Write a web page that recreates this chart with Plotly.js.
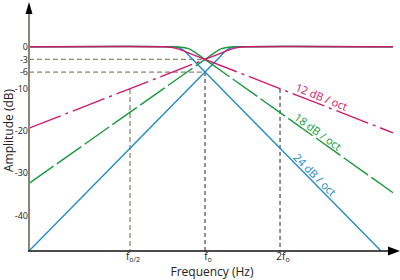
<!DOCTYPE html>
<html><head><meta charset="utf-8">
<script src="https://cdn.plot.ly/plotly-3.0.1.min.js"></script>
<style>html,body{margin:0;padding:0;background:#fff}#chart{width:400px;height:280px}</style>
</head><body><div id="chart"></div>
<script>
// x: octaves relative to the crossover frequency fo (log2(f/fo)); y: amplitude in dB
const xTickVals = [-1, 0, 1];
const xTickText = ['f<sub>o/2</sub>', 'f<sub>o</sub>', '2f<sub>o</sub>'];
const yTickVals = [0, -3, -6, -10, -20, -30, -40];
const yTickText = ['0', '-3', '-6', '-10', '-20', '-30', '-40'];

// 12 dB / oct (magenta)
const lp12KneeX = [-2.347, -0.58, -0.45, -0.33, -0.18, 0];
const lp12KneeY = [0, 0, -0.12, -0.7, -1.75, -3];
const lp12SlopeX = [0, 2.507];
const lp12SlopeY = [-3, -20.4];
const hp12SlopeX = [-2.347, 0];
const hp12SlopeY = [-19.3, -3];
const hp12KneeX = [0, 0.18, 0.33, 0.45, 0.58, 2.507];
const hp12KneeY = [-3, -1.75, -0.7, -0.12, 0, 0];

// 18 dB / oct (green)
const lp18KneeX = [-2.347, -0.42, -0.31, -0.22, -0.12, 0];
const lp18KneeY = [0, 0, -0.12, -0.45, -1.5, -3];
const lp18SlopeX = [0, 2.507];
const lp18SlopeY = [-3, -34.6];
const hp18SlopeX = [-2.347, 0];
const hp18SlopeY = [-32.4, -3];
const hp18KneeX = [0, 0.12, 0.22, 0.31, 0.42, 2.507];
const hp18KneeY = [-3, -1.5, -0.45, -0.12, 0, 0];

// 24 dB / oct (blue)
const lp24KneeX = [-2.347, -0.45, -0.36, -0.28, -0.20];
const lp24KneeY = [0, 0, -0.15, -0.9, -2.4];
const lp24SlopeX = [-0.20, 0, 2.347];
const lp24SlopeY = [-2.4, -6, -48.4];
const hp24SlopeX = [-2.347, 0, 0.20];
const hp24SlopeY = [-48.4, -6, -2.4];
const hp24KneeX = [0.20, 0.28, 0.36, 0.45, 2.507];
const hp24KneeY = [-2.4, -0.9, -0.15, 0, 0];

// guide lines
const guideLevels = [-3, -6];            // horizontal dashed levels (dB)
const guideOct = [-1, 0, 1];             // vertical dashed positions (fo/2, fo, 2fo)
const guideTop = [-10, -6, -10];         // where each vertical guide meets a curve (dB)

const slopeLabels = ['12 dB / oct', '18 dB / oct', '24 dB / oct'];
const slopeLabelX = [1.55, 1.51, 1.47];
const slopeLabelY = [-11.9, -20.0, -30.2];

const xMin = -2.347, xMax = 2.533, yMin = -48.41, yMax = 8.7;

const MAG = '#d0186f', GRN = '#17993d', BLU = '#1e8cc0', GUIDE = '#8c8872';
const FONT = 'Open Sans, Noto Sans, sans-serif';

function tr(x, y, color, dash, shape) {
  return {x: x, y: y, type: 'scatter', mode: 'lines', hoverinfo: 'skip',
    line: {color: color, width: 1.4, dash: dash || 'solid', shape: shape || 'linear', smoothing: 0.8}};
}

const traces = [];
guideLevels.forEach(function (lv) {
  traces.push({x: [xMin, 0], y: [lv, lv], type: 'scatter', mode: 'lines', hoverinfo: 'skip',
    line: {color: GUIDE, width: 1.3, dash: '5px,3px'}});
});
guideOct.forEach(function (o, i) {
  const isGray = o < 0;
  traces.push({x: [o, o], y: [guideTop[i], yMin], type: 'scatter', mode: 'lines', hoverinfo: 'skip',
    line: {color: isGray ? GUIDE : '#222', width: isGray ? 1.3 : 1, dash: isGray ? '5px,3px' : '4px,3px'}});
});

traces.push(tr(lp24KneeX, lp24KneeY, BLU, 'solid', 'spline'));
traces.push(tr(lp24SlopeX, lp24SlopeY, BLU));
traces.push(tr(hp24SlopeX, hp24SlopeY, BLU));
traces.push(tr(hp24KneeX, hp24KneeY, BLU, 'solid', 'spline'));

traces.push(tr(lp18KneeX, lp18KneeY, GRN, 'solid', 'spline'));
traces.push(tr(lp18SlopeX, lp18SlopeY, GRN, '30px,4px'));
traces.push(tr(hp18SlopeX, hp18SlopeY, GRN, '30px,4px'));
traces.push(tr(hp18KneeX, hp18KneeY, GRN, 'solid', 'spline'));

traces.push(tr(lp12KneeX, lp12KneeY, MAG, 'solid', 'spline'));
traces.push(tr(lp12SlopeX, lp12SlopeY, MAG, '34px,5px,3px,5px'));
traces.push(tr(hp12SlopeX, hp12SlopeY, MAG, '34px,5px,3px,5px'));
traces.push(tr(hp12KneeX, hp12KneeY, MAG, 'solid', 'spline'));

// plot area geometry (px) for decorations
const L = 29, R = 5, T = 10, B = 29, W = 400, H = 280;
const pw = W - L - R, ph = H - T - B;
function px(xp) { return (xp - L) / pw; }
function py(yp) { return (H - B - yp) / ph; }

const shapes = [
  // y axis line + arrow
  {type: 'line', xref: 'paper', yref: 'paper', x0: px(29), x1: px(29), y0: py(251), y1: py(12),
    line: {color: '#8a8676', width: 2}},
  {type: 'path', xref: 'paper', yref: 'paper', fillcolor: '#000', line: {width: 0},
    path: 'M' + px(29) + ',' + py(2) + ' L' + px(25.5) + ',' + py(14) + ' L' + px(32.5) + ',' + py(14) + ' Z'},
  // x axis line + arrow
  {type: 'line', xref: 'paper', yref: 'paper', x0: px(28), x1: px(392), y0: py(251), y1: py(251),
    line: {color: '#111', width: 1.5}},
  {type: 'path', xref: 'paper', yref: 'paper', fillcolor: '#000', line: {width: 0},
    path: 'M' + px(400) + ',' + py(251) + ' L' + px(388) + ',' + py(246.5) + ' L' + px(388) + ',' + py(255.5) + ' Z'}
];

const labelColors = [MAG, GRN, BLU];
const labelAngles = [22, 36, 45];
const annotations = slopeLabels.map(function (t, i) {
  return {x: slopeLabelX[i], y: slopeLabelY[i], xref: 'x', yref: 'y', text: t, showarrow: false,
    xanchor: 'center', yanchor: 'middle',
    textangle: labelAngles[i], font: {family: FONT, size: 11, color: labelColors[i]}};
});

const layout = {
  width: W, height: H,
  margin: {l: L, r: R, t: T, b: B, pad: 0},
  paper_bgcolor: '#fff', plot_bgcolor: '#fff',
  showlegend: false,
  xaxis: {range: [xMin, xMax], tickmode: 'array', tickvals: xTickVals, ticktext: xTickText, ticks: '',
    ticklabelshift: 3, ticklabelstandoff: -2,
    showgrid: false, zeroline: false, showline: false, fixedrange: true,
    title: {text: 'Frequency (Hz)', standoff: 6, font: {family: FONT, size: 12, color: '#222'}},
    tickfont: {family: FONT, size: 10, color: '#222'}},
  yaxis: {range: [yMin, yMax], tickmode: 'array', tickvals: yTickVals, ticktext: yTickText, ticks: '',
    showgrid: false, zeroline: false, showline: false, fixedrange: true,
    title: {text: 'Amplitude (dB)', standoff: 0, font: {family: FONT, size: 12, color: '#222'}},
    tickfont: {family: FONT, size: 9, color: '#222'}},
  shapes: shapes,
  annotations: annotations
};

Plotly.newPlot('chart', traces, layout, {displayModeBar: false, staticPlot: true});
</script></body></html>
